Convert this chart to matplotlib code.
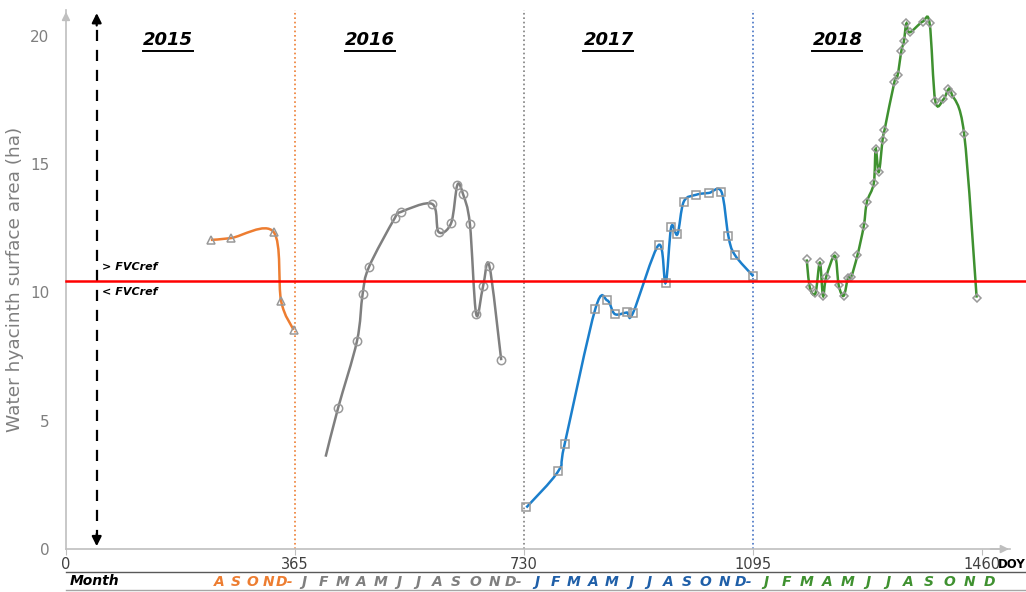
import matplotlib.pyplot as plt
from matplotlib.path import Path
from matplotlib.patches import PathPatch
from matplotlib.lines import Line2D
import numpy as np

# ---- data ----
doy_2015 = [231, 263, 331, 343, 363]
area_2015 = [12.05, 12.12, 12.36, 9.67, 8.54]

doy_2016 = [414, 434, 464, 473, 483, 524, 534, 584, 594, 614, 624, 633, 644, 654, 665, 675, 694]
area_2016 = [3.60, 5.51, 8.11, 9.94, 10.99, 12.89, 13.14, 13.45, 12.36, 12.70, 14.19, 13.84,
             12.67, 9.16, 10.24, 11.04, 7.36]

doy_2017 = [734, 785, 795, 844, 863, 875, 894, 904, 945, 956, 965, 975, 985, 1005, 1025,
            1045, 1056, 1066, 1096]
area_2017 = [1.62, 3.04, 4.08, 9.36, 9.69, 9.16, 9.22, 9.20, 11.85, 10.37, 12.55, 12.27,
             13.54, 13.81, 13.88, 13.93, 12.22, 11.48, 10.63]

doy_2018 = [1181, 1186, 1195, 1202, 1207, 1212, 1226, 1232, 1240, 1247, 1252, 1262, 1272,
            1277, 1288, 1291, 1296, 1302, 1305, 1321, 1326, 1332, 1336, 1340, 1345, 1366,
            1377, 1386, 1399, 1407, 1412, 1432, 1452]
area_2018 = [11.29, 10.20, 9.97, 11.17, 9.87, 10.60, 11.43, 10.29, 9.87, 10.58, 10.61, 11.46,
             12.59, 13.53, 14.26, 15.60, 14.69, 15.95, 16.32, 18.22, 18.47, 19.42, 19.79,
             20.49, 20.14, 20.56, 20.49, 17.47, 17.53, 17.92, 17.75, 16.19, 9.80]

fvc_ref = 10.45
year_labels = ["2015", "2016", "2017", "2018"]
year_label_x = [163, 485, 865, 1230]
year_bounds = [365, 730, 1095]
x_ticks = [0, 365, 730, 1095, 1460]
y_ticks = [0, 5, 10, 15, 20]

months_2015 = ["A", "S", "O", "N", "D-"]
months_2016 = ["J", "F", "M", "A", "M", "J", "J", "A", "S", "O", "N", "D-"]
months_2017 = ["J", "F", "M", "A", "M", "J", "J", "A", "S", "O", "N", "D-"]
months_2018 = ["J", "F", "M", "A", "M", "J", "J", "A", "S", "O", "N", "D"]

orange = "#ED7D31"
gray = "#7F7F7F"
blue = "#1B7FCC"
green = "#3F9130"


def smooth_path(x, y):
    # Excel-style smoothed line: cubic Bezier segments through every point
    pts = np.column_stack([x, y]).astype(float)
    n = len(pts)
    verts = [pts[0]]
    codes = [Path.MOVETO]
    for i in range(n - 1):
        p0 = pts[i - 1] if i > 0 else pts[i]
        p1 = pts[i]
        p2 = pts[i + 1]
        p3 = pts[i + 2] if i + 2 < n else pts[i + 1]
        verts += [p1 + (p2 - p0) / 6.0, p2 - (p3 - p1) / 6.0, p2]
        codes += [Path.CURVE4] * 3
    return Path(verts, codes)


fig = plt.figure(figsize=(10.26, 5.92), dpi=100)
ax = fig.add_axes([0.0643, 0.0726, 0.920, 0.910])
ax.set_xlim(0, 1505)
ax.set_ylim(0, 21)

series = [
    (doy_2015, area_2015, orange, "^", 6, 0),
    (doy_2016, area_2016, gray, "o", 6, 1),
    (doy_2017, area_2017, blue, "s", 6, 0),
    (doy_2018, area_2018, green, "D", 4, 0),
]
for xs, ys, col, mk, ms, skip in series:
    ax.add_patch(PathPatch(smooth_path(xs, ys), facecolor="none", edgecolor=col, lw=1.8, zorder=3))
    ax.plot(xs[skip:], ys[skip:], ls="none", marker=mk, ms=ms, mfc="none",
            mec="#999999", mew=1.1, zorder=4)

# year boundaries
for xb, col in zip(year_bounds, [orange, gray, "#4472C4"]):
    ax.plot([xb, xb], [0, 21.0], color=col, ls=":", lw=1.2, zorder=2, clip_on=False)

# reference line
ax.plot([0, 1540], [fvc_ref, fvc_ref], color="#FF0000", lw=1.8, zorder=5, clip_on=False)
ax.text(58, fvc_ref + 0.35, "> FVCref", fontsize=8, fontweight="bold", style="italic", va="bottom")
ax.text(58, fvc_ref - 0.25, "< FVCref", fontsize=8, fontweight="bold", style="italic", va="top")

# dashed double arrow
ax.plot([49, 49], [0.3, 20.5], color="black", ls=(0, (5, 4)), lw=1.6, zorder=3)
ax.annotate("", xy=(49, 21.0), xytext=(49, 20.3),
            arrowprops=dict(arrowstyle="-|>", color="black", lw=1.6, mutation_scale=14))
ax.annotate("", xy=(49, 0.0), xytext=(49, 0.7),
            arrowprops=dict(arrowstyle="-|>", color="black", lw=1.6, mutation_scale=14))

# year titles
year_texts = []
for lab, xl in zip(year_labels, year_label_x):
    t = ax.text(xl, 19.85, lab, fontsize=13, fontweight="bold", style="italic",
                ha="center", va="center")
    year_texts.append(t)

# axes styling
for s in ["top", "right"]:
    ax.spines[s].set_visible(False)
ax.spines["left"].set_color("#BFBFBF")
ax.spines["bottom"].set_color("#BFBFBF")
ax.spines["left"].set_linewidth(1.2)
ax.spines["bottom"].set_linewidth(1.2)
ax.annotate("", xy=(0, 21.05), xytext=(0, 20.5), annotation_clip=False,
            arrowprops=dict(arrowstyle="-|>", color="#BFBFBF", lw=1.2, mutation_scale=12))
ax.annotate("", xy=(1508, 0), xytext=(1470, 0), annotation_clip=False,
            arrowprops=dict(arrowstyle="-|>", color="#BFBFBF", lw=1.2, mutation_scale=12))

ax.set_yticks(y_ticks)
ax.set_xticks(x_ticks)
ax.tick_params(axis="y", length=0, labelsize=11, labelcolor="#7F7F7F", pad=12)
ax.tick_params(axis="x", length=4, color="#BFBFBF", labelsize=10.5, labelcolor="#404040", pad=2)
ax.set_ylabel("Water hyacinth surface area (ha)", fontsize=13.3, color="#7F7F7F", labelpad=4)
ax.text(1486, -0.6, "DOY", fontsize=8.5, fontweight="bold", va="center", clip_on=False)

# month band below the axis
trans = ax.get_xaxis_transform()
fig.add_artist(Line2D([0.0643, 1.0], [0.034, 0.034], color="#595959", lw=1.0))
fig.add_artist(Line2D([0.0643, 1.0], [0.003, 0.003], color="#A6A6A6", lw=1.0))
fig.text(0.068, 0.018, "Month", fontsize=10, fontweight="bold", style="italic", va="center")

groups = [
    (months_2015, 245, 349, orange),
    (months_2016, 380, 713, gray),
    (months_2017, 750, 1080, "#1F5FA8"),
    (months_2018, 1116, 1473, green),
]
for letters, x0, x1, col in groups:
    xs = np.linspace(x0, x1, len(letters))
    for lt, xm in zip(letters, xs):
        ax.text(xm, -0.062, lt, transform=trans, fontsize=10, fontweight="bold",
                style="italic", color=col, ha="center", va="center", clip_on=False)

# underline the year titles
fig.canvas.draw()
for t in year_texts:
    bb = t.get_window_extent().transformed(fig.transFigure.inverted())
    fig.add_artist(Line2D([bb.x0, bb.x1], [bb.y0 - 0.003, bb.y0 - 0.003], color="black", lw=1.4))

fig.savefig("out.png", dpi=100)
